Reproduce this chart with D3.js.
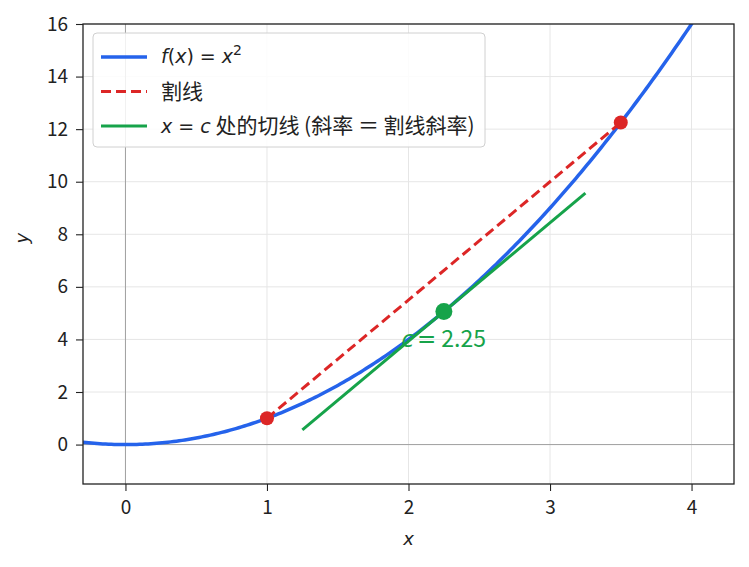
<!DOCTYPE html>
<html>
<head>
<meta charset="utf-8">
<script src="https://cdn.jsdelivr.net/npm/d3@7"></script>
<style>
  body { margin: 0; background: #fff; }
  text { font-family: "Noto Sans CJK SC", "Noto Sans", sans-serif; }
</style>
</head>
<body>
<div id="chart"></div>
<script>
// data
var xDomain = [-0.3, 4.3];
var yDomain = [-1.5, 16];
var xTicks = [0, 1, 2, 3, 4];
var yTicks = [0, 2, 4, 6, 8, 10, 12, 14, 16];
var secantX = [1, 3.5];
var tangentX = [1.25, 3.25];
var cValue = 2.25;
var curveX = d3.range(-0.3, 4.3001, 0.02);

function f(x) { return x * x; }

var W = 749, H = 567;
var margin = { top: 24, right: 15, bottom: 83, left: 83 };
var w = W - margin.left - margin.right,
    h = H - margin.top - margin.bottom;

var xScale = d3.scaleLinear().domain(xDomain).range([0, w]);
var yScale = d3.scaleLinear().domain(yDomain).range([h, 0]);

var svg = d3.select("#chart").append("svg")
  .attr("width", W).attr("height", H)
  .append("g")
  .attr("transform", "translate(" + margin.left + "," + margin.top + ")");

svg.append("defs").append("clipPath").attr("id", "clip")
  .append("rect").attr("width", w).attr("height", h);

// grid
svg.append("g").selectAll("line").data(xTicks).enter().append("line")
  .attr("x1", d => xScale(d)).attr("x2", d => xScale(d))
  .attr("y1", 0).attr("y2", h)
  .attr("stroke", "#e6e6e6").attr("stroke-width", 1);
svg.append("g").selectAll("line").data(yTicks).enter().append("line")
  .attr("y1", d => yScale(d)).attr("y2", d => yScale(d))
  .attr("x1", 0).attr("x2", w)
  .attr("stroke", "#e6e6e6").attr("stroke-width", 1);

// zero lines
svg.append("line").attr("x1", xScale(0)).attr("x2", xScale(0)).attr("y1", 0).attr("y2", h)
  .attr("stroke", "#999").attr("stroke-width", 0.9);
svg.append("line").attr("y1", yScale(0)).attr("y2", yScale(0)).attr("x1", 0).attr("x2", w)
  .attr("stroke", "#999").attr("stroke-width", 0.9);

var plot = svg.append("g").attr("clip-path", "url(#clip)");
var line = d3.line().x(d => xScale(d[0])).y(d => yScale(d[1]));

// curve
plot.append("path")
  .datum(curveX.map(x => [x, f(x)]))
  .attr("d", line)
  .attr("fill", "none").attr("stroke", "#2563eb").attr("stroke-width", 3.5);

// secant
var slope = (f(secantX[1]) - f(secantX[0])) / (secantX[1] - secantX[0]);
plot.append("path")
  .datum(secantX.map(x => [x, f(x)]))
  .attr("d", line)
  .attr("fill", "none").attr("stroke", "#dc2626").attr("stroke-width", 3)
  .attr("stroke-dasharray", "10,5");

// tangent
plot.append("path")
  .datum(tangentX.map(x => [x, f(cValue) + slope * (x - cValue)]))
  .attr("d", line)
  .attr("fill", "none").attr("stroke", "#16a34a").attr("stroke-width", 3);

// points
plot.selectAll("circle.sec").data(secantX).enter().append("circle")
  .attr("cx", d => xScale(d)).attr("cy", d => yScale(f(d)))
  .attr("r", 7).attr("fill", "#dc2626");
plot.append("circle")
  .attr("cx", xScale(cValue)).attr("cy", yScale(f(cValue)))
  .attr("r", 8.5).attr("fill", "#16a34a");

var math = "'DejaVu Sans', sans-serif";

// c label
var cl = svg.append("text")
  .attr("x", xScale(cValue - 0.3)).attr("y", yScale(f(cValue) - 1.35))
  .attr("fill", "#16a34a").attr("font-size", "23px");
cl.append("tspan").attr("font-style", "italic").style("font-family", math).text("c");
cl.append("tspan").style("font-family", math).attr("dx", 3).text("=");
cl.append("tspan").attr("dx", 5).text("2.25");

// frame
svg.append("rect").attr("width", w).attr("height", h)
  .attr("fill", "none").attr("stroke", "#222").attr("stroke-width", 1.3);

// axes
var xAxis = svg.append("g").attr("transform", "translate(0," + h + ")")
  .call(d3.axisBottom(xScale).tickValues(xTicks).tickSize(7).tickPadding(10).tickFormat(d3.format("d")));
var yAxis = svg.append("g")
  .call(d3.axisLeft(yScale).tickValues(yTicks).tickSize(7).tickPadding(8).tickFormat(d3.format("d")));
[xAxis, yAxis].forEach(function(a) {
  a.select(".domain").remove();
  a.selectAll("line").attr("stroke", "#222").attr("stroke-width", 1.1);
  a.selectAll("text").attr("font-size", "19px").attr("fill", "#222")
    .style("font-family", "'Noto Sans CJK SC', sans-serif");
});

svg.append("text")
  .attr("x", w / 2).attr("y", h + 61)
  .attr("text-anchor", "middle").attr("font-size", "18px").attr("font-style", "italic")
  .style("font-family", math)
  .attr("fill", "#222").text("x");
svg.append("text")
  .attr("transform", "rotate(-90)")
  .attr("x", -(yScale(8) + 4)).attr("y", -55)
  .attr("text-anchor", "middle").attr("font-size", "18px").attr("font-style", "italic")
  .style("font-family", math)
  .attr("fill", "#222").text("y");

// legend
var lg = svg.append("g").attr("transform", "translate(10,9)");
lg.append("rect").attr("width", 392).attr("height", 114).attr("rx", 4)
  .attr("fill", "rgba(255,255,255,0.85)").attr("stroke", "#d0d0d0").attr("stroke-width", 1);
var items = [
  { color: "#2563eb", dash: null },
  { color: "#dc2626", dash: "10,5" },
  { color: "#16a34a", dash: null }
];
items.forEach(function(it, i) {
  var yy = 24 + i * 34.5;
  lg.append("line").attr("x1", 8).attr("x2", 54).attr("y1", yy).attr("y2", yy)
    .attr("stroke", it.color).attr("stroke-width", i == 0 ? 3.5 : 3)
    .attr("stroke-dasharray", it.dash);
});
var t0 = lg.append("text").attr("x", 68).attr("y", 24 + 6).attr("font-size", "19px").attr("fill", "#222")
  .style("font-family", math);
t0.append("tspan").attr("font-style", "italic").text("f");
t0.append("tspan").text("(");
t0.append("tspan").attr("font-style", "italic").text("x");
t0.append("tspan").text(") = ");
t0.append("tspan").attr("font-style", "italic").text("x");
t0.append("tspan").attr("font-size", "14px").attr("dy", -8).text("2");

lg.append("text").attr("x", 68).attr("y", 58.5 + 7).attr("font-size", "21px").attr("fill", "#222").text("割线");

var t2 = lg.append("text").attr("x", 68).attr("y", 93 + 7).attr("font-size", "21px").attr("fill", "#222");
t2.append("tspan").attr("font-style", "italic").style("font-family", math).attr("font-size", "19px").text("x");
t2.append("tspan").style("font-family", math).attr("font-size", "19px").text(" = ");
t2.append("tspan").attr("font-style", "italic").style("font-family", math).attr("font-size", "19px").text("c");
t2.append("tspan").text(" 处的切线 (斜率 ＝ 割线斜率)");
</script>
</body>
</html>
